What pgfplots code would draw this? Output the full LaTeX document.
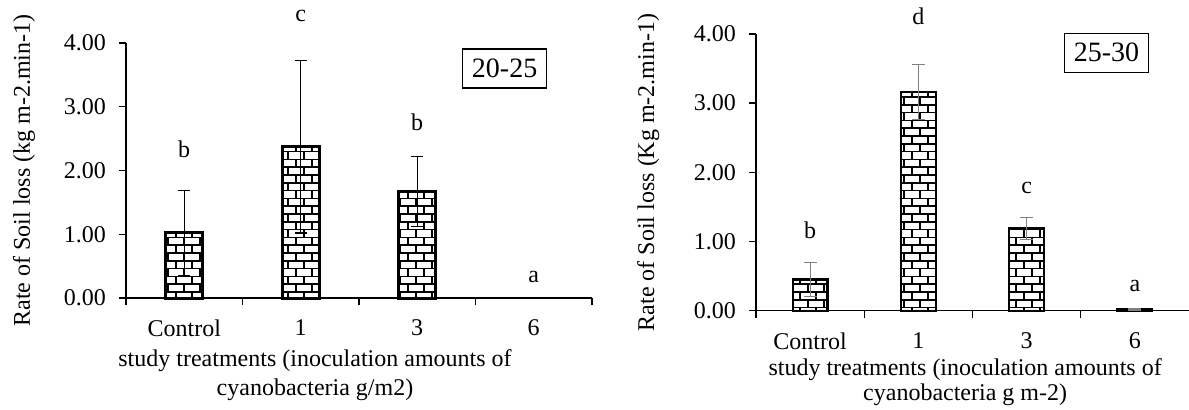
\documentclass[border=0pt]{standalone}
\usepackage{pgfplots}
\pgfplotsset{compat=1.18}
\usepackage{fontspec}
\setmainfont{Liberation Serif}
\usetikzlibrary{patterns}
\pgfdeclarepatternformonly{mybricks}{\pgfqpoint{-1pt}{-1pt}}{\pgfqpoint{9pt}{8.8pt}}{\pgfqpoint{8pt}{7.8pt}}{%
  \pgfsetlinewidth{0.8pt}%
  \pgfpathmoveto{\pgfqpoint{0pt}{0pt}}\pgfpathlineto{\pgfqpoint{8pt}{0pt}}%
  \pgfpathmoveto{\pgfqpoint{0pt}{3.9pt}}\pgfpathlineto{\pgfqpoint{8pt}{3.9pt}}%
  \pgfpathmoveto{\pgfqpoint{0pt}{0pt}}\pgfpathlineto{\pgfqpoint{0pt}{3.9pt}}%
  \pgfpathmoveto{\pgfqpoint{4pt}{3.9pt}}\pgfpathlineto{\pgfqpoint{4pt}{7.8pt}}%
  \pgfusepath{stroke}%
}
\pgfplotsset{
  mystyle/.style={
    scale only axis, anchor=south west,
    xmin=-0.5, xmax=3.5, ymin=0, ymax=4,
    axis x line=bottom, axis y line=left,
    axis line style={-, line width=0.7pt, black},
    tick align=outside, major tick length=3.5pt, minor tick length=3.5pt,
    tick style={line width=0.7pt, black},
    major x tick style={draw=none},
    xtick={0,1,2,3}, xticklabels={Control,1,3,6},
    ytick={0,1,2,3,4}, yticklabels={0.00,1.00,2.00,3.00,4.00},
    xticklabel style={yshift=-4pt},
    yticklabel style={xshift=-3pt},
    ybar, bar shift=0pt, bar width=0.32, clip=false,
    xlabel style={align=center, anchor=center},
    ylabel style={anchor=center},
  },
}
\tikzset{boxlab/.style={draw, line width=0.6pt, minimum width=42pt, minimum height=19.5pt, inner sep=0pt, font=\fontsize{14}{16}\selectfont}}
\begin{document}
\begin{tikzpicture}[font=\fontsize{12}{14}\selectfont]
\path[use as bounding box] (0,0) rectangle (594.5pt,204.5pt);
% ---------- left panel ----------
\begin{axis}[mystyle,
  at={(63pt,55.5pt)}, width=233pt, height=127.5pt,
  minor xtick={-0.5,0.5,1.5,2.5,3.5},
  xlabel={study treatments (inoculation amounts of\\cyanobacteria g/m2)},
  xlabel style={at={(axis description cs:0.4056,-0.301)}, font=\fontsize{12}{14.5}\selectfont},
  ylabel={Rate of Soil loss (kg m-2.min-1)},
  ylabel style={at={(axis description cs:-0.219,0.5)}},
]
\addplot[draw=black, line width=1.5pt, pattern=mybricks,
  error bars/.cd, y dir=both, y explicit,
  error bar style={line width=0.6pt, black},
  error mark options={rotate=90, mark size=3pt, line width=0.6pt, black}]
  coordinates {(0,1.02) +- (0,0.67) (1,2.37) +- (0,1.35) (2,1.67) +- (0,0.55)};
\addplot[draw=none, fill=none] coordinates {(3,0)};
\node at (axis cs:0,2.34) {b};
\node at (axis cs:1,4.43) {c};
\node at (axis cs:2,2.76) {b};
\node at (axis cs:3,0.33) {a};
\node[boxlab] at (axis cs:2.75,3.6) {20-25};
\end{axis}
% ---------- right panel ----------
\begin{axis}[mystyle,
  at={(378pt,49.15pt)}, width=216.5pt, height=138.35pt,
  minor xtick={-0.5,0.5,1.5,2.5},
  xlabel={study treatments (inoculation amounts of\\cyanobacteria g m-2)},
  xlabel style={at={(axis description cs:0.483,-0.257)}, font=\fontsize{12}{12.5}\selectfont},
  ylabel={Rate of Soil loss (Kg m-2.min-1)},
  ylabel style={at={(axis description cs:-0.249,0.5)}},
]
\addplot[draw=black, line width=1.1pt, pattern=mybricks,
  error bars/.cd, y dir=both, y explicit,
  error bar style={line width=0.6pt, gray},
  error mark options={rotate=90, mark size=3.2pt, line width=0.6pt, gray}]
  coordinates {(0,0.45) +- (0,0.25) (1,3.16) +- (0,0.40) (2,1.19) +- (0,0.16) (3,0.02) +- (0,0.01)};
\node at (axis cs:0,1.16) {b};
\node at (axis cs:1,4.25) {d};
\node at (axis cs:2,1.78) {c};
\node at (axis cs:3,0.36) {a};
\node[boxlab] at (axis cs:2.738,3.73) {25-30};
\end{axis}
\end{tikzpicture}
\end{document}
